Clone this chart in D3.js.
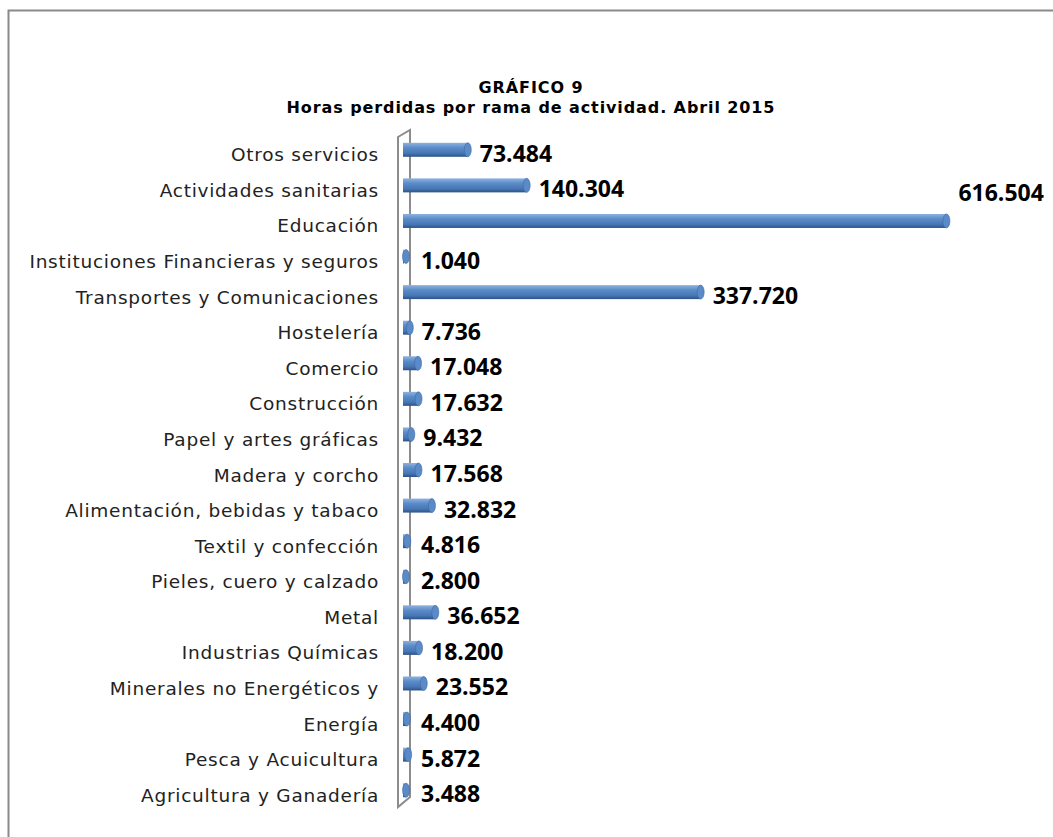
<!DOCTYPE html>
<html>
<head>
<meta charset="utf-8">
<script src="https://cdn.jsdelivr.net/npm/d3@7"></script>
<style>
  body { margin: 0; background: #fff; }
  .cat { font-family: "DejaVu Sans", sans-serif; font-size: 18.5px; letter-spacing: 0.75px; fill: #222; }
  .val { font-family: "Open Sans", sans-serif; font-weight: 700; font-size: 23px; fill: #000; }
  .title { font-family: "DejaVu Sans", sans-serif; font-weight: bold; font-size: 16px; letter-spacing: 0.9px; fill: #000; }
</style>
</head>
<body>
<div id="chart"></div>
<script>
// categories, top to bottom as drawn
var categories = [
  "Otros servicios", "Actividades sanitarias", "Educación",
  "Instituciones Financieras y seguros", "Transportes y Comunicaciones",
  "Hostelería", "Comercio", "Construcción", "Papel y artes gráficas",
  "Madera y corcho", "Alimentación, bebidas y tabaco", "Textil y confección",
  "Pieles, cuero y calzado", "Metal", "Industrias Químicas",
  "Minerales no Energéticos y ", "Energía", "Pesca y Acuicultura",
  "Agricultura y Ganadería"
];
// horas perdidas
var horas = [
  73484, 140304, 616504, 1040, 337720, 7736, 17048, 17632, 9432,
  17568, 32832, 4816, 2800, 36652, 18200, 23552, 4400, 5872, 3488
];
var titleLines = ["GRÁFICO 9", "Horas perdidas por rama de actividad. Abril 2015"];

var width = 1053, height = 837;

var svg = d3.select("#chart").append("svg")
    .attr("width", width)
    .attr("height", height);

var defs = svg.append("defs");
var grad = defs.append("linearGradient")
    .attr("id", "barGrad")
    .attr("x1", 0).attr("y1", 0).attr("x2", 0).attr("y2", 1);
grad.append("stop").attr("offset", "0%").attr("stop-color", "#8fb2de");
grad.append("stop").attr("offset", "35%").attr("stop-color", "#5b8cc9");
grad.append("stop").attr("offset", "75%").attr("stop-color", "#4676b3");
grad.append("stop").attr("offset", "100%").attr("stop-color", "#2d5287");

// outer frame
svg.append("rect")
    .attr("x", 8.5).attr("y", 10.5)
    .attr("width", 1100).attr("height", 900)
    .attr("fill", "none")
    .attr("stroke", "#8a8a8a")
    .attr("stroke-width", 2);

// title
svg.selectAll(".title").data(titleLines).enter().append("text")
    .attr("class", "title")
    .attr("x", 531)
    .attr("y", function (d, i) { return 93 + i * 20; })
    .attr("text-anchor", "middle")
    .text(function (d) { return d; });

var fmt = d3.formatLocale({ decimal: ",", thousands: ".", grouping: [3], currency: ["", "€"] }).format(",d");

var y = d3.scaleBand().domain(categories).range([137, 813]);
var x = d3.scaleLinear().domain([0, 700000]).range([403, 1020]);

// 3D wall
var wallTop = y.range()[0], wallBot = y.range()[1];
svg.append("path")
    .attr("d", "M398," + wallTop + " L410," + (wallTop - 7) + " L410," + (wallBot - 16) + " L398," + (wallBot - 6) + " Z")
    .attr("fill", "#fff")
    .attr("stroke", "#8c8c8c")
    .attr("stroke-width", 2);

var barH = 14;
var rows = svg.selectAll(".row").data(horas).enter().append("g")
    .attr("class", "row")
    .attr("transform", function (d, i) {
      return "translate(0," + (y(categories[i]) + y.bandwidth() / 2) + ")";
    });

rows.append("rect")
    .attr("x", x(0))
    .attr("y", -5 - barH / 2)
    .attr("width", function (d) { return Math.max(0, x(d) - x(0)); })
    .attr("height", barH)
    .attr("fill", "url(#barGrad)");

rows.append("ellipse")
    .attr("cx", function (d) { return Math.max(x(d), x(0) + 3); })
    .attr("cy", -5)
    .attr("rx", 3.5)
    .attr("ry", barH / 2)
    .attr("fill", "#5a8bc8")
    .attr("stroke", "#3e6aa3")
    .attr("stroke-width", 0.6);

var maxV = d3.max(horas);
rows.append("text")
    .attr("class", "val")
    .attr("x", function (d) { return Math.max(x(d), x(0) + 6) + 12; })
    .attr("y", function (d) { return d === maxV ? -34 : -2; })
    .attr("dominant-baseline", "central")
    .text(function (d) { return fmt(d); });

// category labels
svg.selectAll(".cat").data(categories).enter().append("text")
    .attr("class", "cat")
    .attr("x", 379)
    .attr("y", function (d) { return y(d) + y.bandwidth() / 2; })
    .attr("text-anchor", "end")
    .attr("dominant-baseline", "central")
    .text(function (d) { return d; });
</script>
</body>
</html>
